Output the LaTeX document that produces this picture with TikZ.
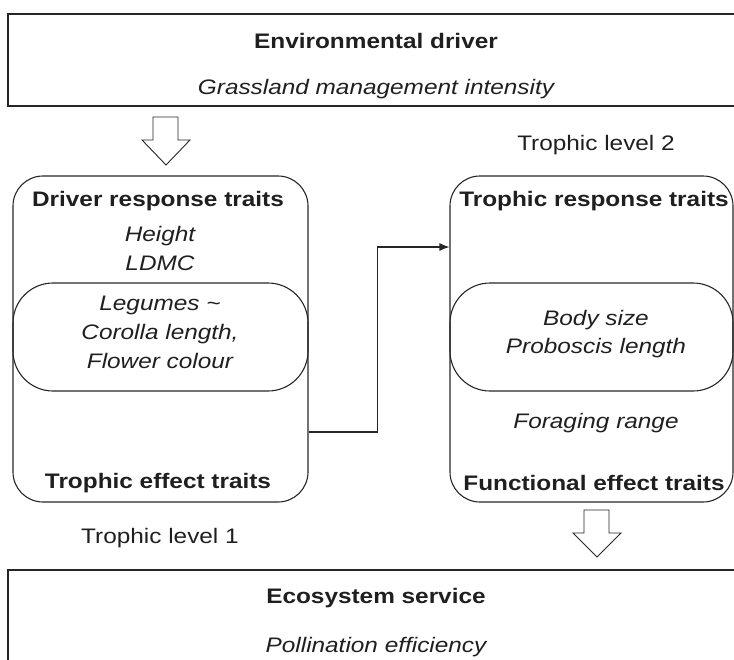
\documentclass[tikz,border=0pt]{standalone}
\usepackage{fontspec}
\setmainfont{Liberation Sans}[FakeStretch=1.16]
\usepackage{tikz}
\usetikzlibrary{arrows.meta}

\begin{document}
\begin{tikzpicture}[x=1pt, y=-1pt, line width=1.1pt, draw=black!85,
  every node/.style={font=\fontsize{21}{25}\selectfont, text=black!88, inner sep=0pt},
  lbl/.style={anchor=base},
  head/.style={anchor=base, font=\fontsize{21}{25}\selectfont\bfseries},
  trait/.style={anchor=base, font=\fontsize{21}{25}\selectfont\itshape},
  outerbox/.style={draw, rounded corners=30pt, minimum height=326pt},
  innerbox/.style={draw, rounded corners=40pt, minimum height=108pt}]
  \clip (0,0) rectangle (734,659);
  % driver and service frames
  \draw (8,14) rectangle (760,106);
  \draw (8,570) rectangle (760,690);
  \node (drv) [head] at (376,48) {Environmental driver};
  \node (gmi) [trait] at (376,94) {Grassland management intensity};
  \node (ess) [head] at (376,603) {Ecosystem service};
  \node (pol) [trait] at (376,652) {Pollination efficiency};
  % trophic level 1
  \node (lbox) [outerbox, minimum width=295pt] at (160.5,339) {};
  \node (lin) [innerbox, minimum width=295pt] at (160.5,337) {};
  \node (drt) [head] at (158,206) {Driver response traits};
  \node (hgt) [trait] at (160,241) {Height};
  \node (ldm) [trait] at (160,270) {LDMC};
  \node (leg) [trait] at (160,310) {Legumes \char`\~};
  \node (cor) [trait] at (160,339) {Corolla length,};
  \node (flw) [trait] at (160,368) {Flower colour};
  \node (tet) [head] at (158,488) {Trophic effect traits};
  \node (tl1) [lbl] at (160,543) {Trophic level 1};
  % trophic level 2
  \node (rbox) [outerbox, minimum width=283pt] at (591.5,339) {};
  \node (rin) [innerbox, minimum width=283pt] at (591.5,337) {};
  \node (trt) [head] at (594,206) {Trophic response traits};
  \node (bdy) [trait] at (596,325) {Body size};
  \node (prb) [trait] at (596,353) {Proboscis length};
  \node (frg) [trait] at (596,428) {Foraging range};
  \node (fet) [head] at (594,490) {Functional effect traits};
  \node (tl2) [lbl] at (596,150) {Trophic level 2};
  % link between levels
  \draw [-{Latex[length=10pt, width=8pt]}] ([yshift=-93pt]lbox.east) -- ++(69,0)
    |- ([yshift=92pt]rbox.west);
  % block arrows
  \draw [line width=0.9pt, line join=miter, fill=white]
    (153,117) -- (178,117) -- (178,140) -- (190,140) -- (166,165)
    -- (142,140) -- (153,140) -- cycle;
  \draw [line width=0.9pt, line join=miter, fill=white]
    (584,510) -- (609,510) -- (609,533) -- (621,533) -- (597,557)
    -- (573,533) -- (584,533) -- cycle;
\end{tikzpicture}
\end{document}
